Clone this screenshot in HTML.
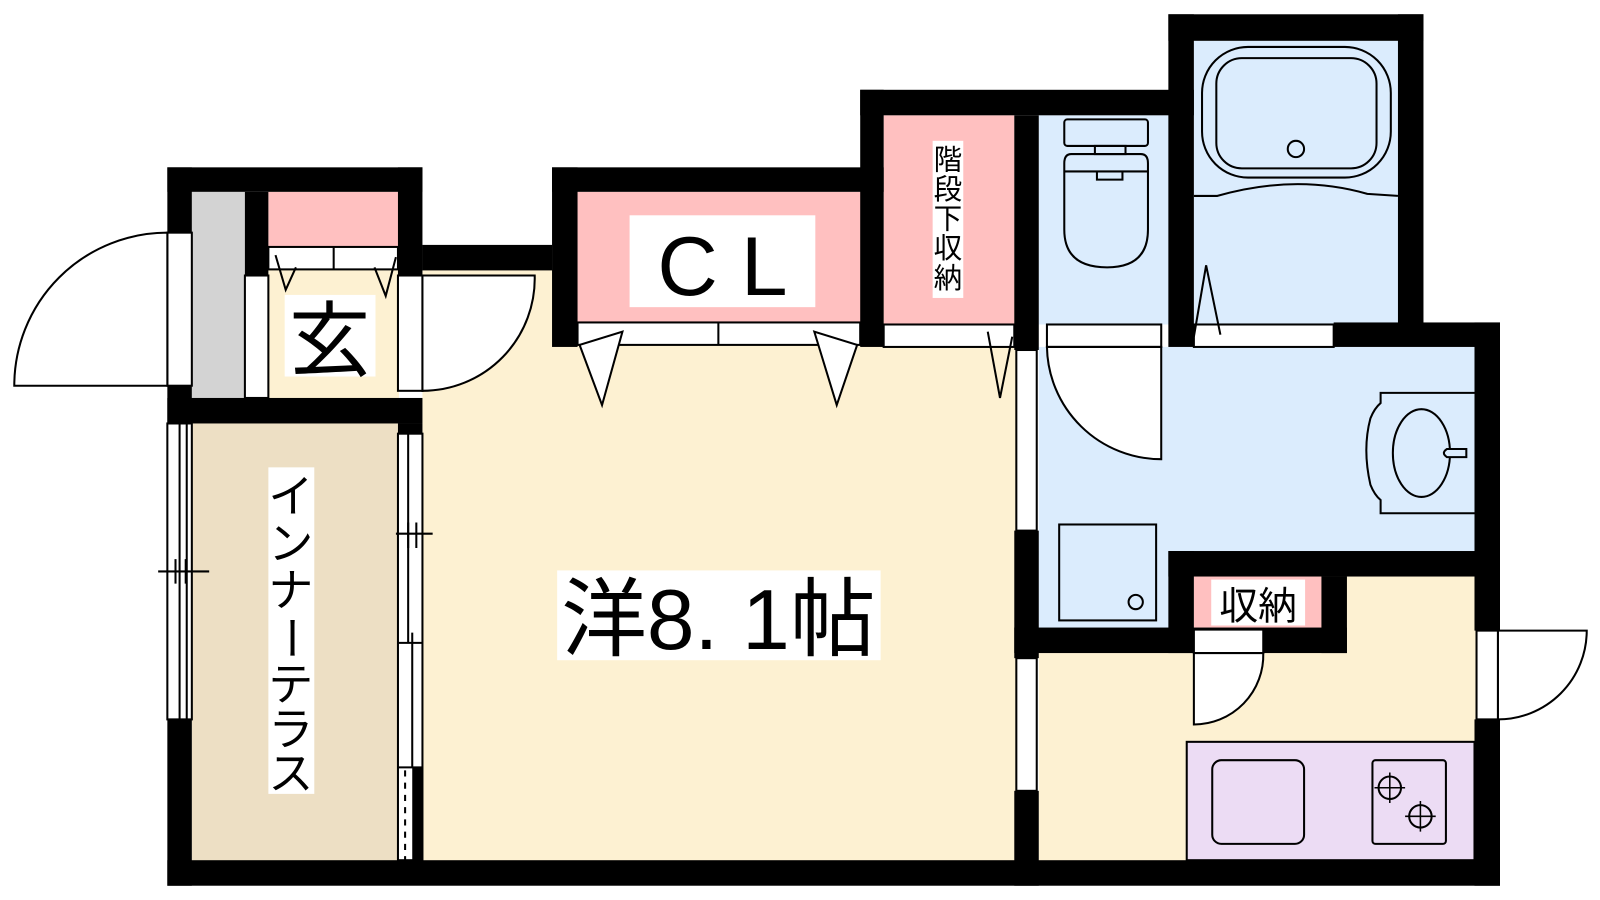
<!DOCTYPE html>
<html><head><meta charset="utf-8"><style>
html,body{margin:0;padding:0;background:#fff;}
svg{display:block}
text{font-family:"Liberation Sans","Noto Sans CJK JP",sans-serif;fill:#000}
</style></head><body>
<svg width="1600" height="900" viewBox="0 0 1568 882" xmlns="http://www.w3.org/2000/svg">
<rect width="1568" height="882" fill="#fff"/>
<rect x="414" y="264" width="582" height="580" fill="#fdf1d2"/>
<rect x="188" y="414" width="204" height="430" fill="#eddfc4"/>
<rect x="188" y="188" width="52" height="204" fill="#d3d3d3"/>
<rect x="263" y="188" width="128" height="204" fill="#fdf1d2"/>
<rect x="263" y="188" width="128" height="54" fill="#ffc0c0"/>
<rect x="566" y="188" width="278" height="128" fill="#ffc0c0"/>
<rect x="866" y="113" width="128" height="205" fill="#ffc0c0"/>
<rect x="1018" y="113" width="128" height="205" fill="#dbecfd"/>
<rect x="1170" y="40" width="200" height="278" fill="#dbecfd"/>
<rect x="1018" y="340" width="428" height="204" fill="#dbecfd"/>
<rect x="1018" y="540" width="128" height="78" fill="#dbecfd"/>
<rect x="1018" y="640" width="428" height="204" fill="#fdf1d2"/>
<rect x="1170" y="565" width="276" height="80" fill="#fdf1d2"/>
<rect x="1170" y="565" width="125" height="52" fill="#ffc0c0"/>
<rect x="1163" y="727" width="282" height="116" fill="#ecdcf4" stroke="#000" stroke-width="2"/>
<g fill="#000">
<rect x="164" y="164" width="250" height="24"/>
<rect x="164" y="390" width="250" height="25"/>
<rect x="164" y="164" width="24" height="64"/>
<rect x="164" y="378" width="24" height="37"/>
<rect x="240" y="188" width="23" height="83"/>
<rect x="390" y="164" width="24" height="106"/>
<rect x="414" y="240" width="127" height="25"/>
<rect x="541" y="164" width="325" height="24"/>
<rect x="541" y="164" width="25" height="176"/>
<rect x="843" y="88" width="23" height="252"/>
<rect x="843" y="88" width="327" height="25"/>
<rect x="994" y="113" width="24" height="230"/>
<rect x="1145" y="14" width="250" height="26"/>
<rect x="1145" y="14" width="25" height="326"/>
<rect x="1370" y="14" width="25" height="304"/>
<rect x="1307" y="316" width="163" height="24"/>
<rect x="1445" y="316" width="25" height="302"/>
<rect x="1445" y="705" width="25" height="163"/>
<rect x="1145" y="540" width="325" height="25"/>
<rect x="1145" y="540" width="25" height="100"/>
<rect x="1295" y="565" width="25" height="75"/>
<rect x="994" y="615" width="326" height="25"/>
<rect x="994" y="520" width="24" height="125"/>
<rect x="994" y="775" width="24" height="93"/>
<rect x="164" y="843" width="1306" height="25"/>
<rect x="164" y="705" width="24" height="163"/>
<rect x="390" y="415" width="24" height="10"/>
</g>
<g fill="none" stroke="#000" stroke-width="2">
<rect x="164" y="228" width="24" height="150" fill="#fff"/>
<path d="M164 228 A150 150 0 0 0 14 378 L164 378 Z" fill="#fff"/>
<rect x="390" y="270" width="24" height="113" fill="#fff"/>
<path d="M414 270 L524 270 A110 110 0 0 1 414 383 Z" fill="#fff"/>
<rect x="240" y="270" width="23" height="120" fill="#fff"/>
<rect x="263" y="242" width="127" height="22" fill="#fff"/>
<line x1="327" y1="242" x2="327" y2="264"/>
<path d="M270 250 L280 284 L290 262 M367 262 L378 290 L388 252"/>
<rect x="566" y="316" width="277" height="22" fill="#fff"/>
<line x1="704" y1="316" x2="704" y2="338"/>
<path d="M568 338 L590 397 L610 325 Z M798 325 L820 397 L840 338 Z" fill="#fff"/>
<rect x="866" y="318" width="128" height="22" fill="#fff"/>
<path d="M968 325 L980 390 L992 330"/>
<rect x="1026" y="318" width="112" height="22" fill="#fff"/>
<path d="M1026 340 A112 112 0 0 0 1138 450 L1138 340 Z" fill="#fff"/>
<rect x="1170" y="318" width="137" height="22" fill="#fff"/>
<path d="M1170 330 L1182 260 L1196 328"/>
<rect x="1043" y="117" width="82" height="26" rx="3" fill="#dbecfd"/>
<rect x="1073" y="143" width="30" height="8"/>
<path d="M1043 160 L1043 225 Q1043 262 1085 262 Q1125 262 1125 225 L1125 160 Q1125 151 1118 151 L1050 151 Q1043 151 1043 160 Z"/>
<path d="M1043 168 L1125 168 M1075 168 L1075 176 L1100 176 L1100 168"/>
<rect x="1178" y="46" width="185" height="128" rx="45"/>
<rect x="1192" y="57" width="157" height="108" rx="25"/>
<circle cx="1270" cy="146" r="8"/>
<path d="M1170 192 L1193 192 Q1270 170 1340 190 L1370 192"/>
<rect x="996" y="343" width="20" height="177" fill="#fff"/>
<rect x="1038" y="514" width="95" height="94"/>
<circle cx="1113" cy="590" r="7"/>
<path d="M1445 385 L1353 385 L1353 395 Q1347 400 1343 410 Q1335 440 1343 475 Q1347 485 1353 490 L1353 503 L1445 503"/>
<ellipse cx="1393" cy="444" rx="28" ry="43" fill="#dbecfd"/>
<path d="M1437 440 L1418 440 Q1412 444 1418 448 L1437 448 Z" fill="#dbecfd"/>
<rect x="1170" y="617" width="68" height="23" fill="#fff"/>
<path d="M1170 640 L1170 710 A68 68 0 0 0 1238 640 Z" fill="#fff"/>
<rect x="996" y="645" width="20" height="130" fill="#fff"/>
<rect x="1447" y="618" width="21" height="87" fill="#fff"/>
<path d="M1468 618 L1555 618 A87 87 0 0 1 1468 705 Z" fill="#fff"/>
<rect x="1188" y="745" width="90" height="82" rx="9"/>
<rect x="1345" y="745" width="72" height="82" rx="3"/>
<circle cx="1362" cy="772" r="11"/>
<circle cx="1392" cy="800" r="11"/>
<path d="M1362 757 V787 M1347 772 H1377 M1392 785 V815 M1377 800 H1407" stroke-width="1.5"/>
<rect x="164" y="415" width="24" height="290" fill="#fff"/>
<line x1="176" y1="415" x2="176" y2="705"/>
<line x1="183" y1="415" x2="183" y2="705"/>
<path d="M155 560 L205 560 M172 548 V572 M182 548 V572"/>
<rect x="390" y="425" width="24" height="418" fill="#fff"/>
<line x1="400" y1="425" x2="400" y2="630"/>
<line x1="404" y1="620" x2="404" y2="752"/>
<path d="M388 523 L424 523 M400 512 V537 M408 512 V537 M390 630 H414 M390 752 H414"/>
<rect x="404" y="752" width="10" height="91" fill="#000" stroke="none"/>
<line x1="397" y1="755" x2="397" y2="843" stroke-dasharray="6 6"/>
</g>
<rect x="279" y="289" width="89" height="80" fill="#fff"/>
<text x="323" y="362" font-size="80" text-anchor="middle">玄</text>
<rect x="617" y="211" width="182" height="90" fill="#fff"/>
<text x="708" y="289" font-size="82" text-anchor="middle">C L</text>
<rect x="914" y="138" width="30" height="154" fill="#fff"/>
<g font-size="28" text-anchor="middle">
<text x="929" y="166">階</text><text x="929" y="195">段</text><text x="929" y="224">下</text><text x="929" y="253">収</text><text x="929" y="282">納</text>
</g>
<rect x="263" y="458" width="45" height="320" fill="#fff"/>
<g font-size="44" text-anchor="middle">
<text x="285" y="502">イ</text><text x="285" y="548">ン</text><text x="285" y="594">ナ</text>
<text x="285" y="640" transform="rotate(90 285 625)">ー</text>
<text x="285" y="686">テ</text><text x="285" y="730">ラ</text><text x="285" y="773">ス</text>
</g>
<rect x="546" y="559" width="317" height="88" fill="#fff"/>
<text x="704" y="636" font-size="84" text-anchor="middle">洋8. 1帖</text>
<rect x="1187" y="568" width="92" height="45" fill="#fff"/>
<text x="1233" y="607" font-size="38" text-anchor="middle">収納</text>
</svg>
</body></html>
